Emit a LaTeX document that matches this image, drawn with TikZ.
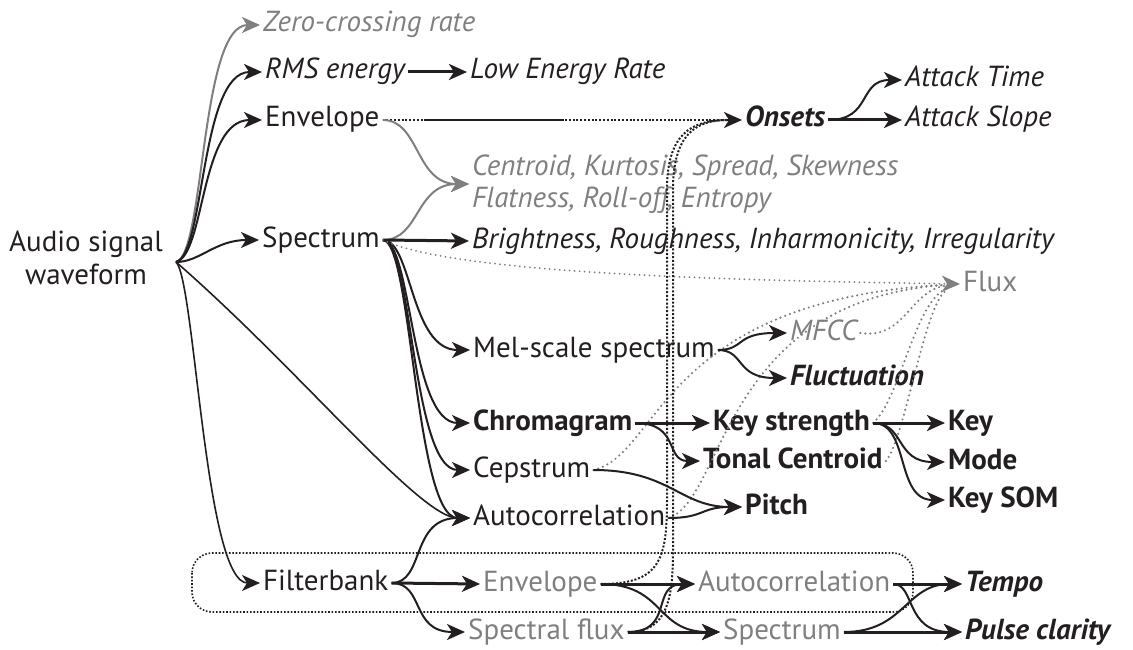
\documentclass[tikz,border=0pt]{standalone}
\usepackage{fontspec}
\setmainfont{PT Sans}
\usetikzlibrary{arrows.meta,calc}
\definecolor{ink}{HTML}{231F20}
\definecolor{gr}{HTML}{7F7F7F}
\newcommand\fsz{\fontsize{29}{32}\selectfont}
\newcommand\fszw{\fontsize{29}{33}\selectfont}
\tikzset{
  lbase/.style={anchor=west, inner sep=3pt, font=\fsz, text=ink},
  lab/.style={lbase, text height=21pt, text depth=7pt},
  ilab/.style={lab, font=\fsz\itshape},
  blab/.style={lab, font=\fsz\bfseries},
  bilab/.style={lab, font=\fsz\bfseries\itshape},
  glab/.style={lab, text=gr},
  gilab/.style={ilab, text=gr},
  tip/.style={-{Stealth[length=18pt,width=16pt,inset=5pt]}},
  arr/.style={tip, draw=ink, line width=2pt},
  tarr/.style={tip, draw=ink, line width=3pt},
  garr/.style={tip, draw=gr, line width=2pt},
  gdot/.style={draw=gr, line width=2.4pt, line cap=round, dash pattern=on 0pt off 5pt},
  bdot/.style={draw=ink, line width=2pt, dash pattern=on 2pt off 1.8pt},
}
\begin{document}
\begin{tikzpicture}[x=1pt,y=-1pt]
\useasboundingbox (0,0) rectangle (1133,650);

% frame of the filterbank group
\draw[ink, line width=1.6pt, dash pattern=on 1.6pt off 1.8pt, rounded corners=20pt] (192,553) rectangle (913,612);

% nodes
\node[lbase, anchor=center, align=center, font=\fszw] (audio) at (86,258) {Audio signal\\waveform};
\coordinate (src) at (176,262);
\node[gilab] (zcr) at (260,25) {Zero-crossing rate};
\node[ilab] (rms) at (262,72) {RMS energy};
\node[lab] (env) at (262,120) {Envelope};
\node[lab] (spec) at (259,240) {Spectrum};
\node[lab] (fb) at (260,583) {Filterbank};
\node[ilab] (lowe) at (467,72) {Low Energy Rate};
\node[bilab] (onsets) at (742,120) {Onsets};
\node[ilab] (atime) at (902,80) {Attack Time};
\node[ilab] (aslope) at (902,120) {Attack Slope};
\node[lbase, align=left, text=gr, font=\fsz\itshape] (cen) at (469,184) {Centroid, Kurtosis, Spread, Skewness\\Flatness, Roll-off, Entropy};
\node[ilab] (bri) at (469,241) {Brightness, Roughness, Inharmonicity, Irregularity};
\node[glab] (flux) at (960,284) {Flux};
\node[lab] (mel) at (470,350) {Mel-scale spectrum};
\node[gilab] (mfcc) at (787,333) {MFCC};
\node[bilab] (fluc) at (787,378) {Fluctuation};
\node[blab] (chroma) at (470,423) {Chromagram};
\node[blab] (keys) at (710,423) {Key strength};
\node[blab] (key) at (945,423) {Key};
\node[blab] (tonal) at (700,461) {Tonal Centroid};
\node[blab] (mode) at (945,462) {Mode};
\node[blab] (keysom) at (945,500) {Key SOM};
\node[lab] (ceps) at (470,470) {Cepstrum};
\node[lab] (auto) at (470,518) {Autocorrelation};
\node[blab] (pitch) at (742,507) {Pitch};
\node[glab] (env2) at (480,584) {Envelope};
\node[glab] (sflux) at (465,632) {Spectral flux};
\node[glab] (auto2) at (695,584) {Autocorrelation};
\node[glab] (spec2) at (720,632) {Spectrum};
\node[bilab] (tempo) at (962,584) {Tempo};
\node[bilab] (pulse) at (962,632) {Pulse clarity};

% from the waveform
\draw[garr] (src) .. controls (205,255) and (200,25) .. (zcr.west);
\draw[arr] (src) .. controls (205,255) and (200,72) .. (rms.west);
\draw[arr] (src) .. controls (205,255) and (200,120) .. (env.west);
\draw[arr] (src) .. controls (200,262) and (215,240) .. (spec.west);
\draw[arr, line width=1.6pt] (src) .. controls (300,370) and (420,518) .. (auto.west);
\draw[arr, line width=1.6pt] (src) .. controls (195,280) and (205,583) .. (fb.west);

% energy / envelope
\draw[tarr] (rms.east) -- (lowe.west);
\draw[bdot, tip] (env.east) -- (onsets.west);
\draw[ink, line width=2.4pt] ($(env.east)!0.115!(onsets.west)$) -- ($(env.east)!0.506!(onsets.west)$);
\draw[garr] (env.east) .. controls (420,120) and (415,184) .. (cen.west);
\draw[garr] (spec.east) .. controls (420,240) and (415,184) .. (cen.west);

% onsets
\draw[tarr] (onsets.east) -- (aslope.west);
\draw[arr] (onsets.east) .. controls (872,120) and (858,80) .. (atime.west);

% spectrum fan
\draw[tarr] (spec.east) -- (bri.west);
\draw[arr] (spec.east) .. controls (412,240) and (410,350) .. (mel.west);
\draw[arr] (spec.east) .. controls (412,240) and (410,423) .. (chroma.west);
\draw[arr] (spec.east) .. controls (412,240) and (412,470) .. (ceps.west);
\draw[arr] (spec.east) .. controls (412,240) and (415,518) .. (auto.west);

% flux (dotted)
\draw[gdot, garr, dash pattern=on 0pt off 5pt] (spec.east) .. controls (450,272) and (700,280) .. (flux.west);
\draw[gdot, shorten >=14pt] (ceps.east) .. controls (660,455) and (660,300) .. (flux.west);
\draw[gdot, shorten >=14pt] (auto.east) .. controls (725,500) and (720,300) .. (flux.west);
\draw[gdot, shorten >=14pt] (mfcc.east) .. controls (905,340) and (910,290) .. (flux.west);
\draw[gdot, shorten >=14pt] (keys.east) .. controls (900,400) and (915,300) .. (flux.west);
\draw[gdot, shorten >=14pt] (tonal.east) .. controls (905,440) and (925,300) .. (flux.west);

% mel
\draw[arr] (mel.east) .. controls (745,350) and (735,333) .. (mfcc.west);
\draw[arr] (mel.east) .. controls (745,350) and (735,378) .. (fluc.west);

% chroma / key
\draw[tarr] (chroma.east) -- (keys.west);
\draw[arr] (chroma.east) .. controls (680,423) and (665,461) .. (tonal.west);
\draw[tarr] (keys.east) -- (key.west);
\draw[arr] (keys.east) .. controls (905,423) and (895,462) .. (mode.west);
\draw[arr] (keys.east) .. controls (910,423) and (895,500) .. (keysom.west);

% pitch
\draw[arr] (ceps.east) .. controls (670,470) and (680,507) .. (pitch.west);
\draw[arr] (auto.east) .. controls (705,518) and (700,507) .. (pitch.west);

% filterbank group
\draw[tarr] (fb.east) -- (env2.west);
\draw[arr] (fb.east) .. controls (425,583) and (410,632) .. (sflux.west);
\draw[arr] (fb.east) .. controls (425,583) and (410,518) .. (auto.west);
\draw[tarr] (env2.east) -- (auto2.west);
\draw[arr] (env2.east) .. controls (665,584) and (655,632) .. (spec2.west);
\draw[arr] (sflux.east) .. controls (675,632) and (650,584) .. (auto2.west);
\draw[tarr] (sflux.east) -- (spec2.west);
\draw[tarr] (auto2.east) -- (tempo.west);
\draw[arr] (auto2.east) .. controls (915,584) and (905,632) .. (pulse.west);
\draw[tarr] (spec2.east) -- (pulse.west);
\draw[arr] (spec2.east) .. controls (905,632) and (905,584) .. (tempo.west);

% onsets from the filterbank branch (dotted)
\draw[bdot, shorten >=14pt] (env2.east) .. controls (660,584) and (667,560) .. (667,500) -- (667,190) .. controls (667,135) and (690,120) .. (onsets.west);
\draw[bdot, shorten >=14pt] (sflux.east) .. controls (667,632) and (673,600) .. (673,550) -- (673,190) .. controls (673,135) and (695,120) .. (onsets.west);
\end{tikzpicture}
\end{document}
